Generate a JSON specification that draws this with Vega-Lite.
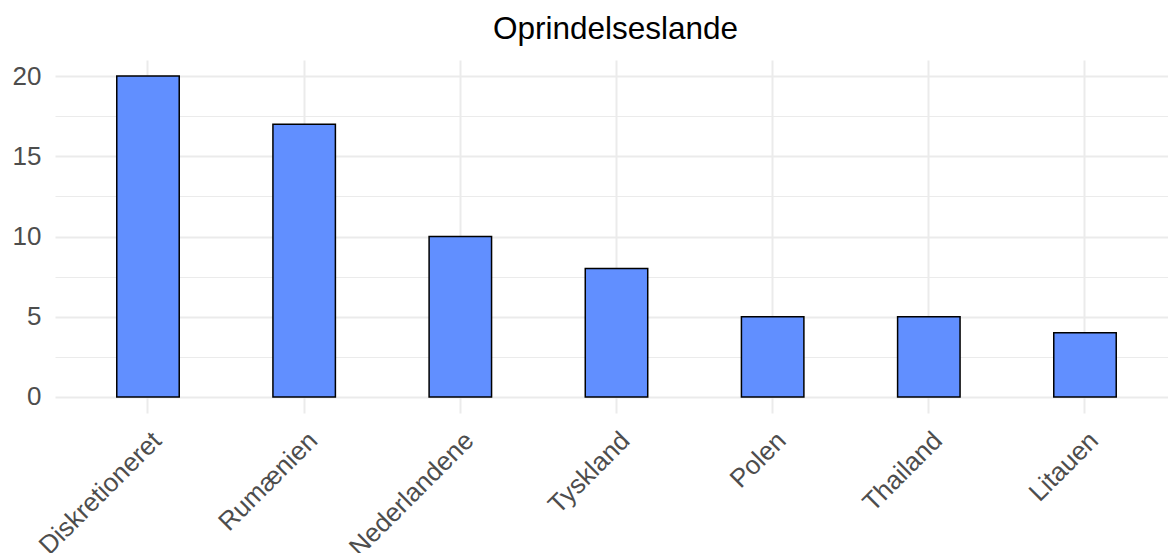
{
  "$schema": "https://vega.github.io/schema/vega-lite/v6.json",
  "autosize": {"type": "none"},
  "padding": {"left": 55, "top": 60, "right": 0, "bottom": 140},
  "width": 1113,
  "height": 353,
  "background": "white",
  "config": {
    "font": "Liberation Sans",
    "view": {"stroke": null},
    "axis": {"domain": false, "ticks": false, "tickSize": 0, "gridColor": "#EBEBEB", "labelFont": "Liberation Sans", "labelColor": "#4D4D4D", "labelFontSize": 26, "title": null}
  },
  "title": {"text": "Oprindelseslande", "fontSize": 31.5, "fontWeight": "normal", "color": "#000000", "font": "Liberation Sans", "anchor": "middle", "baseline": "alphabetic", "offset": -10, "dx": 4},
  "data": {"values": [
    {"land": "Diskretioneret", "antal": 20},
    {"land": "Rumænien", "antal": 17},
    {"land": "Nederlandene", "antal": 10},
    {"land": "Tyskland", "antal": 8},
    {"land": "Polen", "antal": 5},
    {"land": "Thailand", "antal": 5},
    {"land": "Litauen", "antal": 4}
  ]},
  "encoding": {
    "x": {"field": "land", "type": "nominal", "sort": null,
      "scale": {"paddingInner": 0.6, "paddingOuter": 0.3635, "align": 0.544, "round": false},
      "axis": {"bandPosition": 0.5, "grid": true, "gridWidth": 2, "labelAngle": -45, "labelAlign": "right", "labelBaseline": "top", "labelPadding": 14}}
  },
  "layer": [
    {
      "mark": {"type": "bar", "opacity": 0},
      "encoding": {
        "y": {"field": "antal", "type": "quantitative",
          "scale": {"domain": [-1, 21], "nice": false, "zero": false},
          "axis": {"orient": "left", "values": [2.5, 7.5, 12.5, 17.5], "labels": false, "grid": true, "gridWidth": 1}}
      }
    },
    {
      "mark": {"type": "bar", "color": "#618FFF", "stroke": "#000000", "strokeWidth": 1.5},
      "encoding": {
        "y": {"field": "antal", "type": "quantitative",
          "scale": {"domain": [-1, 21], "nice": false, "zero": false},
          "axis": {"orient": "left", "values": [0, 5, 10, 15, 20], "grid": true, "gridWidth": 2, "labelPadding": 14}},
        "y2": {"datum": 0}
      }
    }
  ],
  "resolve": {"axis": {"y": "independent"}}
}
